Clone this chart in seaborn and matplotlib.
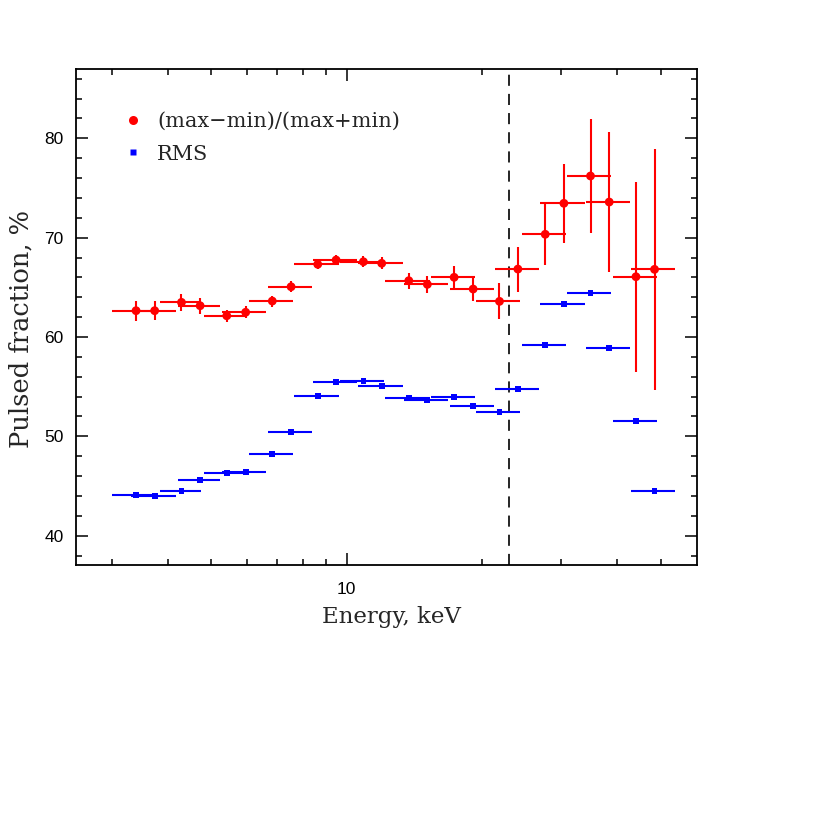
import numpy as np
import pandas as pd
import matplotlib
matplotlib.use("Agg")
import matplotlib.pyplot as plt
import seaborn as sns
from matplotlib.ticker import FixedLocator, FixedFormatter, NullFormatter
from matplotlib.lines import Line2D

# ---- data ----
energy = [3.40, 3.74, 4.29, 4.72, 5.41, 5.96, 6.83, 7.52, 8.62, 9.47, 10.89, 11.96,
          13.74, 15.11, 17.33, 19.10, 21.86, 24.02, 27.63, 30.40, 34.84, 38.34, 43.97, 48.36]
energy_halfwidth = [0.40, 0.43, 0.45, 0.51, 0.60, 0.67, 0.77, 0.85, 0.97, 1.07, 1.23, 1.35,
                    1.55, 1.71, 1.96, 2.16, 2.47, 2.71, 3.12, 3.44, 3.94, 4.33, 4.97, 5.46]
pf_maxmin = [62.65, 62.65, 63.49, 63.15, 62.14, 62.49, 63.62, 65.06, 67.32, 67.75, 67.58, 67.42,
             65.67, 65.30, 66.01, 64.83, 63.59, 66.84, 70.34, 73.46, 76.21, 73.59, 66.07, 66.81]
pf_maxmin_err = [1.0, 0.95, 0.85, 0.8, 0.6, 0.6, 0.55, 0.55, 0.5, 0.5, 0.55, 0.6,
                 0.8, 0.85, 1.15, 1.2, 1.8, 2.26, 3.1, 4.0, 5.7, 7.05, 9.56, 12.1]
pf_rms = [44.10, 44.03, 44.50, 45.58, 46.28, 46.44, 48.25, 50.44, 54.03, 55.44, 55.57, 55.10,
          53.86, 53.69, 53.93, 53.09, 52.48, 54.80, 59.23, 63.29, 64.43, 58.89, 51.58, 44.50]
line_energy = 23.0
legend_labels = ["(max\u2212min)/(max+min)", "RMS"]

df = pd.DataFrame({"energy": energy, "dE": energy_halfwidth,
                   "maxmin": pf_maxmin, "maxmin_err": pf_maxmin_err, "rms": pf_rms})

sns.set_theme(style="ticks")
plt.rcParams["font.family"] = ["Liberation Sans", "DejaVu Sans"]
plt.rcParams["lines.scale_dashes"] = False

fig = plt.figure(figsize=(8.14, 8.14), dpi=100)
ax = fig.add_axes([76 / 814, 1 - 565 / 814, (697 - 76) / 814, (565 - 69) / 814])

# error bars
ax.errorbar(df["energy"], df["maxmin"], xerr=df["dE"], yerr=df["maxmin_err"],
            fmt="none", ecolor="#ff0000", elinewidth=1.5, capsize=0, zorder=2)
ax.errorbar(df["energy"], df["rms"], xerr=df["dE"],
            fmt="none", ecolor="#0000ff", elinewidth=1.5, capsize=0, zorder=2)
# markers
sns.scatterplot(data=df, x="energy", y="maxmin", ax=ax, color="#ff0000", marker="o",
                s=40, edgecolor="none", linewidth=0, zorder=3, legend=False)
sns.scatterplot(data=df, x="energy", y="rms", ax=ax, color="#0000ff", marker="s",
                s=17, edgecolor="none", linewidth=0, zorder=3, legend=False)

ax.axvline(line_energy, color="black", lw=1.2, ls=(0, (8, 5.8)), zorder=1)

ax.set_xscale("log")
ax.set_xlim(2.5, 60.1)
ax.set_ylim(37.05, 86.98)

ax.xaxis.set_major_locator(FixedLocator([10]))
ax.xaxis.set_major_formatter(FixedFormatter(["10"]))
ax.xaxis.set_minor_locator(FixedLocator([3, 4, 5, 6, 7, 8, 9, 20, 30, 40, 50]))
ax.xaxis.set_minor_formatter(NullFormatter())
ax.yaxis.set_major_locator(FixedLocator([40, 50, 60, 70, 80]))
ax.yaxis.set_minor_locator(FixedLocator(np.arange(38, 88, 2)))

ax.tick_params(which="both", direction="in", top=True, right=True, width=1.1,
               colors="black", labelsize=12.5)
ax.tick_params(which="major", length=8.5)
ax.tick_params(which="minor", length=4.3)
ax.tick_params(axis="y", which="major", pad=9)
ax.tick_params(axis="x", which="major", pad=12)
for sp in ax.spines.values():
    sp.set_linewidth(1.3)
    sp.set_color("black")

serif = ["DejaVu Serif"]
ax.set_xlabel("Energy, keV", family=serif, fontsize=16.5)
ax.set_ylabel("Pulsed fraction, %", family=serif, fontsize=18.5)
ax.xaxis.set_label_coords(0.508, -0.082)
ax.yaxis.set_label_coords(-0.068, 0.476)

handles = [Line2D([], [], ls="none", marker="o", color="#ff0000", ms=6.5, mec="none"),
           Line2D([], [], ls="none", marker="s", color="#0000ff", ms=4.2, mec="none")]
leg = ax.legend(handles, legend_labels, loc="upper left", bbox_to_anchor=(0.077, 0.913),
                frameon=False, borderpad=0, borderaxespad=0, handlelength=0.9,
                handletextpad=0.7, labelspacing=0.65,
                prop={"family": serif, "size": 15})

fig.savefig("out.png", dpi=100)
